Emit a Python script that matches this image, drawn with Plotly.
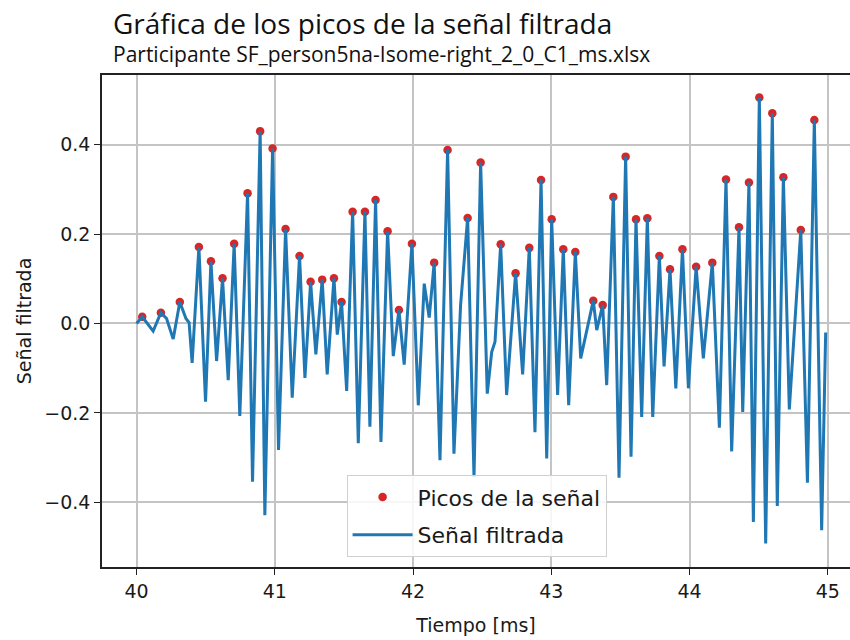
import plotly.graph_objects as go

# Vertices of the filtered signal (time in ms, amplitude)
tiempo_ms = [
    40.000, 40.041, 40.120, 40.176, 40.217, 40.265, 40.313, 40.357, 40.380, 40.402,
    40.451, 40.499, 40.538, 40.579, 40.622, 40.663, 40.706, 40.747, 40.803, 40.839,
    40.894, 40.928, 40.984, 41.027, 41.078, 41.126, 41.179, 41.218, 41.259, 41.297,
    41.343, 41.379, 41.428, 41.452, 41.483, 41.520, 41.563, 41.604, 41.652, 41.688,
    41.729, 41.768, 41.816, 41.857, 41.898, 41.936, 41.992, 42.038, 42.081, 42.117,
    42.153, 42.195, 42.250, 42.296, 42.344, 42.395, 42.441, 42.489, 42.537, 42.569,
    42.593, 42.634, 42.677, 42.742, 42.793, 42.841, 42.882, 42.926, 42.967, 43.003,
    43.046, 43.087, 43.126, 43.174, 43.213, 43.304, 43.329, 43.372, 43.401, 43.449,
    43.490, 43.538, 43.577, 43.613, 43.654, 43.695, 43.734, 43.782, 43.816, 43.859,
    43.901, 43.949, 43.992, 44.048, 44.100, 44.165, 44.216, 44.264, 44.305, 44.358,
    44.385, 44.430, 44.462, 44.505, 44.551, 44.599, 44.635, 44.679, 44.722, 44.805,
    44.853, 44.903, 44.956, 44.985,
]
senal = [
    0.000, 0.015, -0.017, 0.024, 0.011, -0.035, 0.048, 0.011, 0.002, -0.088,
    0.171, -0.175, 0.139, -0.084, 0.101, -0.127, 0.178, -0.207, 0.291, -0.354,
    0.430, -0.429, 0.391, -0.283, 0.211, -0.166, 0.151, -0.122, 0.093, -0.069,
    0.098, -0.114, 0.101, -0.025, 0.048, -0.151, 0.250, -0.268, 0.250, -0.231,
    0.276, -0.265, 0.206, -0.073, 0.030, -0.092, 0.178, -0.183, 0.089, 0.013,
    0.136, -0.306, 0.388, -0.291, 0.041, 0.236, -0.343, 0.360, -0.157, -0.064,
    -0.041, 0.177, -0.160, 0.112, -0.114, 0.169, -0.243, 0.321, -0.302, 0.233,
    -0.160, 0.166, -0.183, 0.160, -0.078, 0.051, -0.015, 0.041, -0.138, 0.283,
    -0.345, 0.373, -0.298, 0.233, -0.209, 0.235, -0.209, 0.151, -0.096, 0.121,
    -0.145, 0.166, -0.145, 0.127, -0.078, 0.136, -0.233, 0.322, -0.286, 0.215,
    -0.198, 0.315, -0.444, 0.505, -0.492, 0.470, -0.408, 0.327, -0.192, 0.209,
    -0.356, 0.455, -0.462, -0.020,
]

# Indices of the detected peaks within the signal
picos_idx = [
    1, 3, 6, 10, 12, 14, 16, 18, 20, 22, 24, 26, 28, 30, 32, 34, 36, 38, 40, 42,
    44, 46, 50, 52, 55, 57, 61, 63, 65, 67, 69, 71, 73, 75, 77, 79, 81, 83, 85,
    87, 89, 91, 93, 95, 97, 99, 101, 103, 105, 107, 109, 111,
]

x_ticks = [40, 41, 42, 43, 44, 45]
y_ticks = [-0.4, -0.2, 0.0, 0.2, 0.4]
y_ticktext = ["\u22120.4", "\u22120.2", "0.0", "0.2", "0.4"]

titulo = "Gráfica de los picos de la señal filtrada"
subtitulo = "Participante SF_person5na-Isome-right_2_0_C1_ms.xlsx"

picos_t = [tiempo_ms[i] for i in picos_idx]
picos_v = [senal[i] for i in picos_idx]

fig = go.Figure()
fig.add_trace(go.Scatter(
    x=picos_t, y=picos_v, mode="markers", name="Picos de la señal",
    marker=dict(color="#d62728", size=8.5, line=dict(width=0)),
    legendgroup="a",
))
fig.add_trace(go.Scatter(
    x=tiempo_ms, y=senal, mode="lines", name="Señal filtrada",
    line=dict(color="#1f77b4", width=3),
    legendgroup="b",
))

axis_font = dict(family="DejaVu Sans", size=19, color="#1a1a1a")

fig.update_layout(
    width=850, height=640,
    margin=dict(l=102, r=0, t=75, b=73),
    paper_bgcolor="white", plot_bgcolor="white",
    showlegend=True,
    legend=dict(
        x=0.327, y=0.1865, xanchor="left", yanchor="top",
        bgcolor="rgba(255,255,255,0.85)", bordercolor="#d0d0d0", borderwidth=1,
        font=dict(family="DejaVu Sans", size=22, color="#1a1a1a"),
        tracegroupgap=6, itemwidth=60,
    ),
    xaxis=dict(
        range=[39.75, 45.161], tickvals=x_ticks, ticktext=[str(v) for v in x_ticks],
        showgrid=True, gridcolor="#c4c4c4", gridwidth=1.6, zeroline=False,
        showline=True, linecolor="#222222", linewidth=1.6, mirror=True,
        ticks="outside", ticklen=6, tickwidth=1.4, tickcolor="#222222",
        tickfont=axis_font,
        title=dict(text="Tiempo [ms]", font=axis_font, standoff=18),
    ),
    yaxis=dict(
        range=[-0.5445, 0.5555], tickvals=y_ticks, ticktext=y_ticktext,
        showgrid=True, gridcolor="#c4c4c4", gridwidth=1.6, zeroline=False,
        showline=True, linecolor="#222222", linewidth=1.6, mirror=False,
        ticks="outside", ticklen=6, tickwidth=1.4, tickcolor="#222222",
        tickfont=axis_font,
        title=dict(text="Señal filtrada", font=axis_font, standoff=8),
    ),
    annotations=[
        dict(text=titulo, xref="paper", yref="paper", x=0.012, y=1.106,
             xanchor="left", yanchor="middle", showarrow=False,
             font=dict(family="Open Sans", size=28, color="#111111")),
        dict(text=subtitulo, xref="paper", yref="paper", x=0.012, y=1.043,
             xanchor="left", yanchor="middle", showarrow=False,
             font=dict(family="Open Sans", size=21, color="#111111")),
    ],
)

fig.write_html("out.html")
